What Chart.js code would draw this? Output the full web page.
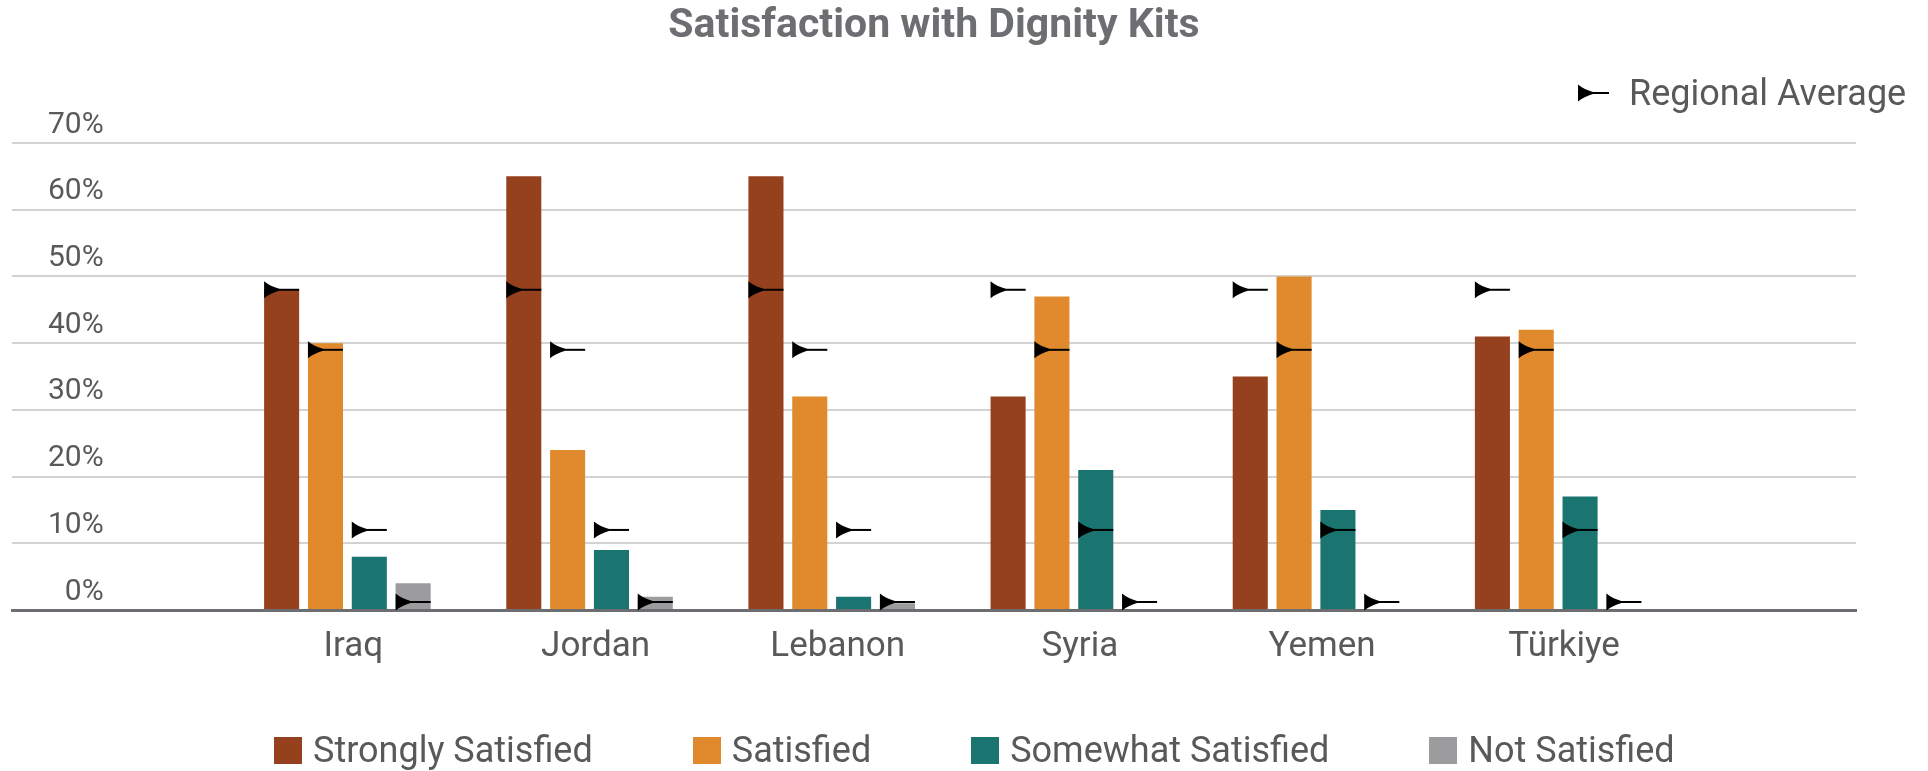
<!DOCTYPE html>
<html>
<head>
<meta charset="utf-8">
<title>Satisfaction with Dignity Kits</title>
<script src="https://cdn.jsdelivr.net/npm/chart.js@4.4.1/dist/chart.umd.min.js"></script>
<style>
  html, body { margin: 0; padding: 0; background: #ffffff; }
  #wrap { position: relative; width: 1928px; height: 771px; font-family: Roboto, "Noto Sans", sans-serif; }
  #chart { position: absolute; left: 0; top: 0; }
  .legend { position: absolute; display: flex; align-items: center; height: 44px;
            color: #595959; font-size: 36px; line-height: 44px; white-space: nowrap; }
  .legend .item { display: flex; align-items: center; }
  .legend .swatch { display: inline-block; width: 28px; height: 27px; margin-right: 11px; }
  #avgLegend { left: 1578px; top: 71px; }
  #avgLegend canvas { margin-right: 20px; }
  #seriesLegend { left: 274px; top: 728px; }
  #seriesLegend .item { margin-right: 100px; }
</style>
</head>
<body>
<div id="wrap">
  <canvas id="chart" width="1928" height="771"></canvas>
  <div id="avgLegend" class="legend"></div>
  <div id="seriesLegend" class="legend"></div>
</div>
<script>
// Countries on the x axis
const categories = ['Iraq', 'Jordan', 'Lebanon', 'Syria', 'Yemen', 'Türkiye'];

// Share of respondents (%) per satisfaction level
const stronglySatisfied = [48, 65, 65, 32, 35, 41];
const satisfied         = [40, 24, 32, 47, 50, 42];
const somewhatSatisfied = [8, 9, 2, 21, 15, 17];
const notSatisfied      = [4, 2, 1, 0, 0, 0];

// Regional average (%) for each satisfaction level, same order as the series
const regionalAverage = [48, 39, 12, 1.2];

const seriesNames  = ['Strongly Satisfied', 'Satisfied', 'Somewhat Satisfied', 'Not Satisfied'];
const seriesColors = ['#96411e', '#e08a2d', '#1a7470', '#9c9c9f'];
const seriesValues = [stronglySatisfied, satisfied, somewhatSatisfied, notSatisfied];

// Y axis tick values (%)
const yTicks = [0, 10, 20, 30, 40, 50, 60, 70];

const averageLabel = 'Regional Average';

// Arrow-head marker with a tail line, used for the regional averages
function drawAverageMarker(ctx, x0, y, w) {
  ctx.save();
  ctx.fillStyle = '#000000';
  ctx.beginPath();
  ctx.moveTo(x0, y - 8.5);
  ctx.quadraticCurveTo(x0 + 6, y - 3.5, x0 + 15, y - 1);
  ctx.lineTo(x0 + 15, y + 1);
  ctx.quadraticCurveTo(x0 + 6, y + 3.5, x0, y + 8.5);
  ctx.closePath();
  ctx.fill();
  ctx.strokeStyle = '#000000';
  ctx.lineWidth = 2;
  ctx.beginPath();
  ctx.moveTo(x0 + 10, y);
  ctx.lineTo(x0 + w, y);
  ctx.stroke();
  ctx.restore();
}

// Draws a regional-average marker on top of every bar of each series
const averageMarkers = {
  id: 'averageMarkers',
  afterDatasetsDraw(chart) {
    const ctx = chart.ctx;
    const yScale = chart.scales.y;
    chart.data.datasets.forEach((ds, k) => {
      const meta = chart.getDatasetMeta(k);
      if (meta.hidden) return;
      const y = yScale.getPixelForValue(regionalAverage[k]);
      meta.data.forEach(bar => {
        const { x, width } = bar.getProps(['x', 'width'], true);
        drawAverageMarker(ctx, x - width / 2, y, width);
      });
    });
  }
};

const datasets = seriesNames.map((name, k) => ({
  label: name,
  data: seriesValues[k].map((v, i) => ({ x: i, y: v })),
  backgroundColor: seriesColors[k],
  borderWidth: 0,
  categoryPercentage: 0.724,
  barPercentage: 0.80
}));

const chart = new Chart(document.getElementById('chart'), {
  type: 'bar',
  data: { datasets },
  plugins: [averageMarkers],
  options: {
    responsive: false,
    animation: false,
    devicePixelRatio: 1,
    layout: { padding: { left: 12, right: 72, top: 0, bottom: 87 } },
    plugins: {
      legend: { display: false },
      tooltip: { enabled: false },
      title: {
        display: true,
        text: 'Satisfaction with Dignity Kits',
        color: '#6d6e71',
        font: { family: 'Roboto', size: 41, weight: 'bold' },
        padding: { top: 2, bottom: 91.8 }
      }
    },
    scales: {
      x: {
        type: 'linear',
        offset: false,
        bounds: 'data',
        min: -1.385,
        max: 6.23,
        afterBuildTicks(scale) {
          scale.ticks = categories.map((_, i) => ({ value: i }));
        },
        grid: { display: false, drawTicks: false, offset: false },
        border: { display: true, color: '#6d6e71', width: 3 },
        ticks: {
          autoSkip: false,
          maxRotation: 0,
          padding: 16,
          labelOffset: 6,
          color: '#595959',
          font: { family: 'Roboto', size: 35 },
          callback: (v) => categories[v]
        }
      },
      y: {
        min: yTicks[0],
        max: yTicks[yTicks.length - 1],
        afterBuildTicks(scale) {
          scale.ticks = yTicks.map(v => ({ value: v }));
        },
        afterFit(scale) { scale.width = 0; },
        grid: { color: '#d3d3d3', lineWidth: 2, drawTicks: false },
        border: { display: false },
        ticks: {
          mirror: true,
          crossAlign: 'far',
          padding: 36,
          labelOffset: -18,
          color: '#595959',
          font: { family: 'Roboto', size: 30 },
          callback: (v) => v + '%'
        }
      }
    }
  }
});

// Legend for the regional average marker (top right)
(function () {
  const box = document.getElementById('avgLegend');
  const item = document.createElement('div');
  item.className = 'item';
  const c = document.createElement('canvas');
  c.width = 31; c.height = 20;
  drawAverageMarker(c.getContext('2d'), 0, 10, 31);
  const t = document.createElement('span');
  t.textContent = averageLabel;
  item.appendChild(c);
  item.appendChild(t);
  box.appendChild(item);
})();

// Series legend (bottom), built from the chart's datasets
(function () {
  const box = document.getElementById('seriesLegend');
  chart.data.datasets.forEach(ds => {
    const item = document.createElement('div');
    item.className = 'item';
    const sw = document.createElement('span');
    sw.className = 'swatch';
    sw.style.background = ds.backgroundColor;
    const t = document.createElement('span');
    t.textContent = ds.label;
    item.appendChild(sw);
    item.appendChild(t);
    box.appendChild(item);
  });
})();
</script>
</body>
</html>
